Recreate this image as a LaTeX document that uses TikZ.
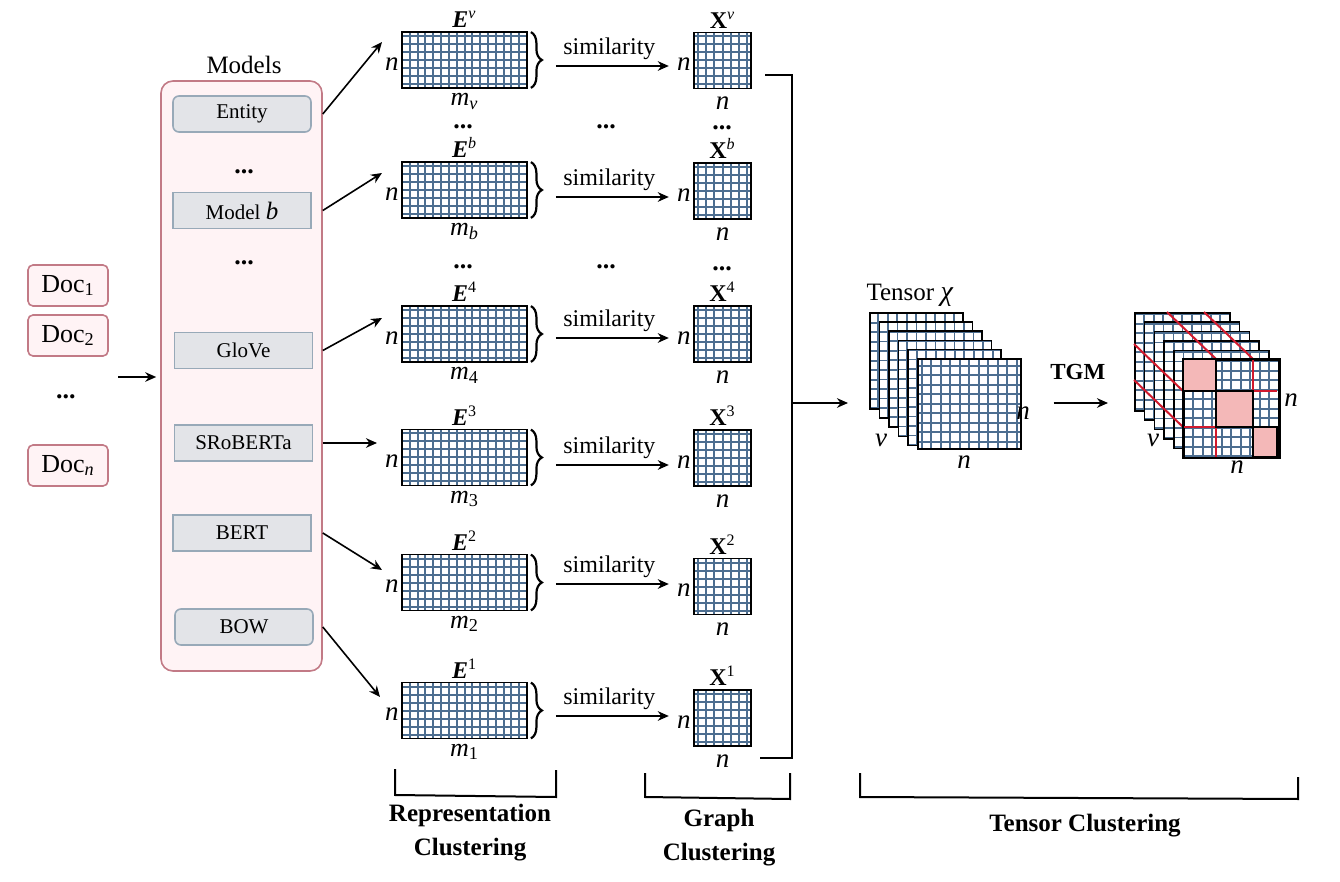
\documentclass[tikz,border=0pt]{standalone}
\usepackage{amsmath}
\usepackage{fontspec}
\setmainfont{Liberation Serif}
\usetikzlibrary{arrows.meta,decorations.pathreplacing,calc}
\definecolor{gridc}{HTML}{4D6E90}
\definecolor{pinkfill}{HTML}{FFF3F5}
\definecolor{pinkline}{HTML}{C27A86}
\definecolor{boxfill}{HTML}{E3E4E8}
\definecolor{boxline}{HTML}{98A9B8}
\definecolor{blockfill}{HTML}{F4B8B8}
\definecolor{redline}{HTML}{D11A2E}
\newcommand{\vi}[1]{\textit{#1}}
\tikzset{
  fs/.style={font=\fontsize{#1}{#1}\selectfont},
  bfs/.style={font=\fontsize{#1}{#1}\selectfont\bfseries},
  arr/.style={-{Stealth[length=5.5pt,width=4.8pt]}, line width=0.8pt},
  gridded/.style n args={5}{path picture={\draw[gridc, line width=#5, xshift=#3, yshift=#4] (-100pt,-100pt) grid[xstep=#1, ystep=#2] (100pt,100pt);}},
  docbox/.style={draw=pinkline, fill=pinkfill, line width=0.8pt, rounded corners=2.5pt, minimum width=40pt, minimum height=20.5pt, inner sep=0pt, fs=13},
  modelsbox/.style={draw=pinkline, fill=pinkfill, line width=0.8pt, rounded corners=6pt, minimum width=80.5pt, minimum height=295pt},
  mbox/.style={draw=boxline, fill=boxfill, line width=0.8pt, minimum width=69pt, minimum height=18pt, inner sep=0pt, fs=10.5},
  emat/.style={draw=black, line width=0.9pt, fill=white, minimum width=62.5pt, minimum height=28pt, inner sep=0pt, gridded={3.906pt}{4pt}{0pt}{2pt}{1pt}},
  xmat/.style={draw=black, line width=0.9pt, fill=white, minimum width=28.5pt, minimum height=28pt, inner sep=0pt, gridded={4.07pt}{4pt}{2.035pt}{2pt}{1pt}},
  tsl/.style={draw=black, line width=0.8pt, fill=white, inner sep=0pt, anchor=north west, gridded={4.75pt}{4.75pt}{0pt}{0pt}{0.85pt}},
  toplab/.style={anchor=south, inner sep=1.5pt, fs=12},
  leftn/.style={anchor=east, inner sep=1pt, fs=13.5, yshift=-2pt},
  botlab/.style={anchor=north, inner sep=0.5pt, yshift=-1.5pt, fs=13},
  botn/.style={anchor=north, inner sep=0.5pt, yshift=-3pt, fs=13.5},
  mathlab/.style={fs=13.5, inner sep=1pt},
  dotsn/.style={bfs=13, inner sep=0pt},
  brace/.style={decorate, decoration={brace, amplitude=5.5pt}, line width=1.1pt},
  bracket/.style={line width=1pt},
  blk/.style={fill=blockfill, draw=black, line width=1.1pt},
  redl/.style={draw=redline, line width=1pt},
}
\begin{document}
\begin{tikzpicture}[x=0.5pt,y=-0.5pt]
\useasboundingbox (0,0) rectangle (1340,882);

% documents
\node[docbox] (d1) at (68,285.5) {Doc\textsubscript{1}};
\node[docbox] (d2) at (68,335.5) {Doc\textsubscript{2}};
\node[dotsn] (d3) at (66,397) {...};
\node[docbox] (dn) at (68,465.5) {Doc\textsubscript{\vi{n}}};

% models
\node[modelsbox] (models) at (241.5,376) {};
\node[fs=12.5] (mlab) at (244,65) {Models};
\node[mbox, rounded corners=3pt] (Mv) at (242,114) {Entity};
\node[dotsn] (md1) at (244,172) {...};
\node[mbox] (Mb) at (242,210.5) {Model {\fontsize{12.5}{12.5}\selectfont\vi{b}}};
\node[dotsn] (md2) at (244,263) {...};
\node[mbox] (M4) at (243.5,350.5) {GloVe};
\node[mbox] (M3) at (243.5,443) {SRoBERTa};
\node[mbox] (M2) at (242,533) {BERT};
\node[mbox, rounded corners=3pt] (M1) at (244,627) {BOW};

\coordinate (din) at (118,377);
\draw[arr, shorten >=2pt] (din) -- (din -| models.west);

% rows of matrices
\foreach \r/\s/\ey/\xy/\dy/\tx/\ty in {v/{\vi{v}}/60/60.5/6/382/42, b/{\vi{b}}/190/191/7/382/173, 4/4/334/334/4/382/318, 3/3/457.5/458/7.5/377/443, 2/2/582.5/586.5/1.5/382/570, 1/1/710.5/718/5.5/380/697}{
  \node[emat] (E\r) at (464.5,\ey) {};
  \node[toplab] (tE\r) at (E\r.north) {\textbf{\textit{E}}\textsuperscript{\s}};
  \node[leftn] (nE\r) at (E\r.west) {\vi{n}};
  \node[botlab] (mE\r) at (E\r.south) {\vi{m}\textsubscript{\s}};
  \node[xmat] (X\r) at (722.5,\xy) {};
  \node[toplab] (tX\r) at (X\r.north) {\textbf{X}\textsuperscript{\s}};
  \node[leftn] (nX\r) at (X\r.west) {\vi{n}};
  \node[botn] (bX\r) at (X\r.south) {\vi{n}};
  \draw[brace] ($(E\r.north east)+(3,1)$) -- ($(E\r.south east)+(3,-1)$);
  \coordinate (s\r) at ($(E\r.east)+(28,\dy)$);
  \draw[arr, shorten >=3pt] (s\r) -- (s\r -| nX\r.west) node[pos=0.45, above, fs=12, inner sep=3pt] {similarity};
  \coordinate (t\r) at (\tx,\ty);
  \draw[arr] (M\r.east -| models.east) -- (t\r);
}

% dots between rows
\node[dotsn] (ed1) at (463,127) {...};
\node[dotsn] (sd1) at (606,127) {...};
\node[dotsn] (xd1) at (722,128) {...};
\node[dotsn] (ed2) at (463,267) {...};
\node[dotsn] (sd2) at (606,267) {...};
\node[dotsn] (xd2) at (722,269) {...};

% collector
\coordinate (c1) at (765,75);
\coordinate (c2) at (760,758);
\coordinate (cj) at (792,403);
\draw[line width=0.8pt] (c1) -| (cj) |- (c2);

% tensor chi
\foreach \i in {0,...,4}
  \node[tsl, minimum width=46.5pt, minimum height=48pt] (ta\i) at ({869+9.6*\i},{312+9.2*\i}) {};
\node[tsl, minimum width=51.5pt, minimum height=45pt] (ta5) at (917,358) {};
\node[fs=12.5] (tenl) at (910,295) {Tensor {\fontsize{14}{14}\selectfont\vi{χ}}};
\node[mathlab] (nar) at (1023,413) {\vi{n}};
\node[mathlab] (nav) at (881,440) {\vi{v}};
\node[mathlab] (nab) at (964,462) {\vi{n}};

\draw[arr, shorten >=10.5pt] (cj) -- (cj -| ta0.west);

% TGM tensor
\foreach \i in {0,...,5}
  \node[tsl, minimum width=47.5pt, minimum height=49pt] (tb\i) at ({1134+9.8*\i},{312+9.4*\i}) {};
\draw[redl] (1216,391) -- (1277,391);
\draw[redl] (1183,427) -- (1277,427);
\draw[redl] (1216,427) -- (1216,457);
\draw[redl] (1253,359) -- (1253,391);
\draw[redl] (1253,427) -- (1253,457);
\draw[redl] (1134,344) -- (1183,391);
\draw[redl] (1134,380) -- (1183,427);
\draw[redl] (1167,312) -- (1216,359);
\draw[redl] (1204,312) -- (1253,359);
\draw[blk] (1183,359) rectangle (1216,391);
\draw[blk] (1216,391) rectangle (1253,427);
\draw[blk] (1253,427) rectangle (1277,457);
\draw[line width=0.9pt] (tb5.north west) rectangle (tb5.south east);
\node[mathlab] (nbr) at (1291,400) {\vi{n}};
\node[mathlab] (nbv) at (1153,440) {\vi{v}};
\node[mathlab] (nbb) at (1237,467) {\vi{n}};

\draw[arr, shorten <=16pt, shorten >=13pt] (ta5.east |- cj) -- (tb0.west |- cj) node[midway, above=8pt, bfs=11.5] {TGM};

% brackets
\draw[bracket] (395,769) -- (395,795) -- (556,797) -- (556,770);
\draw[bracket] (645,773) -- (645,797) -- (790,799) -- (790,773);
\draw[bracket] (860,773) -- (860,797) -- (1298,799) -- (1298,777);
\node[bfs=12.5] (rc1) at (470,815) {Representation};
\node[bfs=12.5] (rc2) at (470,850) {Clustering};
\node[bfs=12.5] (gc1) at (719,820) {Graph};
\node[bfs=12.5] (gc2) at (719,855) {Clustering};
\node[bfs=12.5] (tc) at (1085,826) {Tensor Clustering};
\end{tikzpicture}
\end{document}
